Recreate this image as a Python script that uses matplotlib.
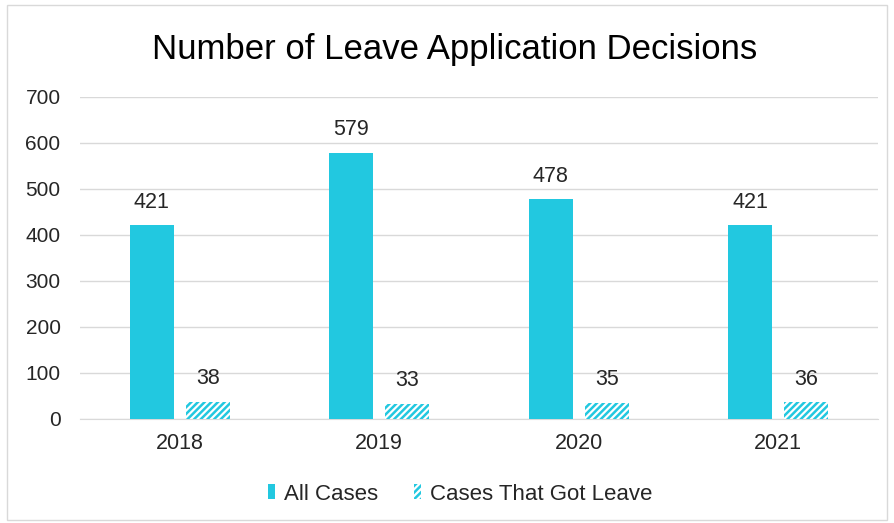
import matplotlib
matplotlib.use("Agg")
import matplotlib.pyplot as plt
import numpy as np

years = ["2018", "2019", "2020", "2021"]
all_cases = [421, 579, 478, 421]
leave_cases = [38, 33, 35, 36]
yticks = [0, 100, 200, 300, 400, 500, 600, 700]

plt.rcParams['font.family'] = ['Liberation Sans', 'DejaVu Sans']
plt.rcParams['hatch.linewidth'] = 1.8

color = "#22C8E0"
fig = plt.figure(figsize=(8.94, 5.23), dpi=100)
ax = fig.add_axes([80/894, 1-419/523, (878-80)/894, (419-97)/523])

# outer border
fig.patches.append(plt.Rectangle((7/894, 3/523), 880/894, 515/523, transform=fig.transFigure,
                                 fill=False, edgecolor="#D9D9D9", linewidth=1))

x = np.arange(len(years))
w = 0.22
off = 0.14
b1 = ax.bar(x - off, all_cases, w, color=color, label="All Cases", zorder=3)
b2 = ax.bar(x + off, leave_cases, w, facecolor="white", edgecolor=color, hatch="/////",
            linewidth=0, label="Cases That Got Leave", zorder=3)

for bars, vals in ((b1, all_cases), (b2, leave_cases)):
    for rect, v in zip(bars, vals):
        ax.annotate(str(v), (rect.get_x() + rect.get_width()/2, v), xytext=(0, 9),
                    textcoords="offset points", ha="center", va="bottom",
                    fontsize=15.5, color="#262626")

ax.set_xlim(-0.5, 3.5)
ax.set_ylim(0, 700)
ax.set_yticks(yticks)
ax.set_yticklabels([str(t) for t in yticks], fontsize=15, color="#262626")
ax.set_xticks(x)
ax.set_xticklabels(years, fontsize=15.5, color="#262626")
ax.tick_params(axis="both", length=0)
ax.tick_params(axis="x", pad=10)
ax.tick_params(axis="y", pad=14)
ax.grid(axis="y", color="#D9D9D9", linewidth=1, zorder=0)
for s in ["top", "right", "left"]:
    ax.spines[s].set_visible(False)
ax.spines["bottom"].set_color("#D9D9D9")

fig.text(455/894, 1-50/523, "Number of Leave Application Decisions", ha="center", va="center",
         fontsize=25, color="#000000")

leg = fig.legend(loc="center", bbox_to_anchor=(460/894, 1-494/523), ncol=2, frameon=False,
                 fontsize=16, handlelength=0.33, handleheight=0.65, columnspacing=1.6,
                 handletextpad=0.4)
for t in leg.get_texts():
    t.set_color("#262626")

fig.savefig("out.png", dpi=100)
